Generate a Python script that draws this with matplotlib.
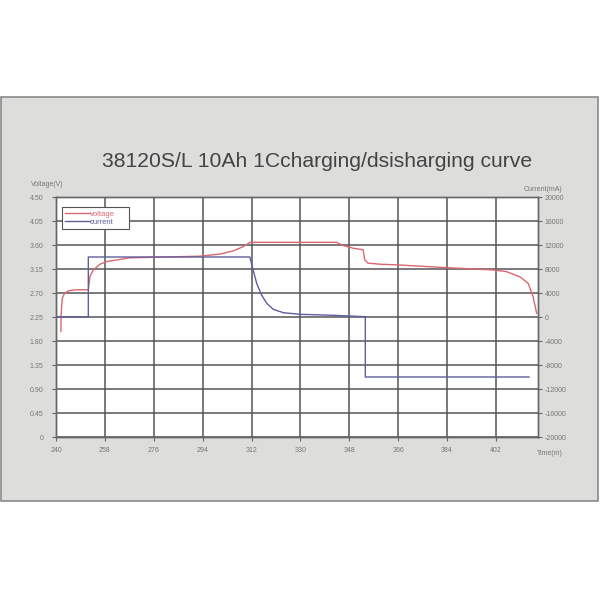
import matplotlib
matplotlib.use("Agg")
import matplotlib.pyplot as plt
from matplotlib.patches import Rectangle

# ---- data ----
voltage_t = [241.8, 241.9, 242.3, 243.1, 244.5, 247.0, 251.9, 252.5, 253.7, 256.2,
             258.7, 263.6, 267.2, 275.8, 293.0, 300.4, 305.3, 309.0, 311.4, 343.3,
             345.7, 349.4, 353.1, 353.7, 354.9, 359.3, 366.6, 371.6, 383.8, 401.6,
             405.9, 410.8, 413.9, 415.7, 417.0]
voltage_v = [1.98, 2.30, 2.60, 2.69, 2.74, 2.76, 2.76, 3.01, 3.13, 3.24,
             3.29, 3.33, 3.36, 3.37, 3.39, 3.43, 3.49, 3.57, 3.65, 3.65,
             3.59, 3.54, 3.51, 3.32, 3.26, 3.24, 3.225, 3.21, 3.175, 3.13,
             3.10, 3.005, 2.88, 2.63, 2.32]

current_t = [240.5, 251.9, 251.9, 311.4, 312.6, 313.9, 315.7, 317.6, 320.0,
             323.7, 329.8, 342.1, 353.9, 353.9, 414.2]
current_ma = [0, 0, 10000, 10000, 7833, 5617, 3667, 2283, 1283,
              717, 450, 283, 50, -10000, -10000]

x_ticks = [240, 258, 276, 294, 312, 330, 348, 366, 384, 402]
v_ticks = [0, 0.45, 0.90, 1.35, 1.80, 2.25, 2.70, 3.15, 3.60, 4.05, 4.50]
v_tick_labels = ["0", "0.45", "0.90", "1.35", "1.80", "2.25", "2.70", "3.15", "3.60", "4.05", "4.50"]
c_ticks = [-20000, -16000, -12000, -8000, -4000, 0, 4000, 8000, 12000, 16000, 20000]
c_tick_labels = ["-20000", "-16000", "-12000", "-8000", "-4000", "0", "4000", "8000", "12000", "16000", "20000"]

title = "38120S/L 10Ah 1Ccharging/dsisharging curve"

# ---- style ----
plt.rcParams['font.family'] = ['Liberation Sans', 'DejaVu Sans']
RED = "#dc6670"
BLUE = "#5e5e9e"
GRID = "#555555"
LABEL = "#777777"

fig = plt.figure(figsize=(6, 6), dpi=100)
fig.patch.set_facecolor("white")

# gray panel
panel = Rectangle((0.002, 1 - 501 / 600), 0.994, (501 - 97) / 600,
                  transform=fig.transFigure, facecolor="#dddddb",
                  edgecolor="#8a8a8a", linewidth=1.2, zorder=-10)
fig.patches.append(panel)

L, R, T, B = 56, 538, 197, 437
ax = fig.add_axes([L / 600, 1 - B / 600, (R - L) / 600, (B - T) / 600])
ax.set_facecolor("white")
ax2 = ax.twinx()
ax.set_zorder(1)
ax2.set_zorder(2)

ax.set_xlim(240, 417.5)
ax.set_ylim(0, 4.5)
ax2.set_ylim(-20000, 20000)

ax.set_xticks(x_ticks)
ax.set_xticklabels([str(t) for t in x_ticks])
ax.set_yticks(v_ticks)
ax.set_yticklabels(v_tick_labels)
ax2.set_yticks(c_ticks)
ax2.set_yticklabels(c_tick_labels)

ax.grid(True, color=GRID, linewidth=1.1, zorder=1)
ax.set_axisbelow(True)

for a in (ax, ax2):
    for s in a.spines.values():
        s.set_color("#666666")
        s.set_linewidth(1.0)
ax.tick_params(axis="both", direction="out", length=3, width=0.8, color="#666666",
               labelsize=5, labelcolor=LABEL, pad=6)
ax.tick_params(axis="x", pad=4)
ax2.tick_params(axis="y", direction="out", length=3, width=0.8, color="#666666",
                labelsize=5, labelcolor=LABEL, pad=2)

lv, = ax.plot(voltage_t, voltage_v, color=RED, linewidth=1.0, label="voltage", zorder=3)
lc, = ax2.plot(current_t, current_ma, color=BLUE, linewidth=1.0, label="current", zorder=3)

leg = ax2.legend(handles=[lv, lc], loc="upper left",
                 bbox_to_anchor=(0.0124, 0.8625, 0.1387, 0.0955), mode="expand",
                 fontsize=5.5, frameon=True, fancybox=False, framealpha=1,
                 edgecolor="#555555", handlelength=3.2, handletextpad=0.0,
                 borderpad=0.45, labelspacing=0.05, borderaxespad=0,
                 labelcolor="linecolor")
leg.get_frame().set_linewidth(0.8)
leg.set_zorder(5)

fig.text(317 / 600, 1 - 167 / 600, title, ha="center", va="baseline",
         fontsize=15.2, color="#444444")
fig.text(31 / 600, 1 - 186 / 600, "Voltage(V)", ha="left", va="baseline",
         fontsize=5, color=LABEL)
fig.text(562 / 600, 1 - 191 / 600, "Current(mA)", ha="right", va="baseline",
         fontsize=5, color=LABEL)
fig.text(537 / 600, 1 - 455 / 600, "Time(m)", ha="left", va="baseline",
         fontsize=5, color=LABEL)

fig.savefig("out.png", dpi=100, facecolor="white")
